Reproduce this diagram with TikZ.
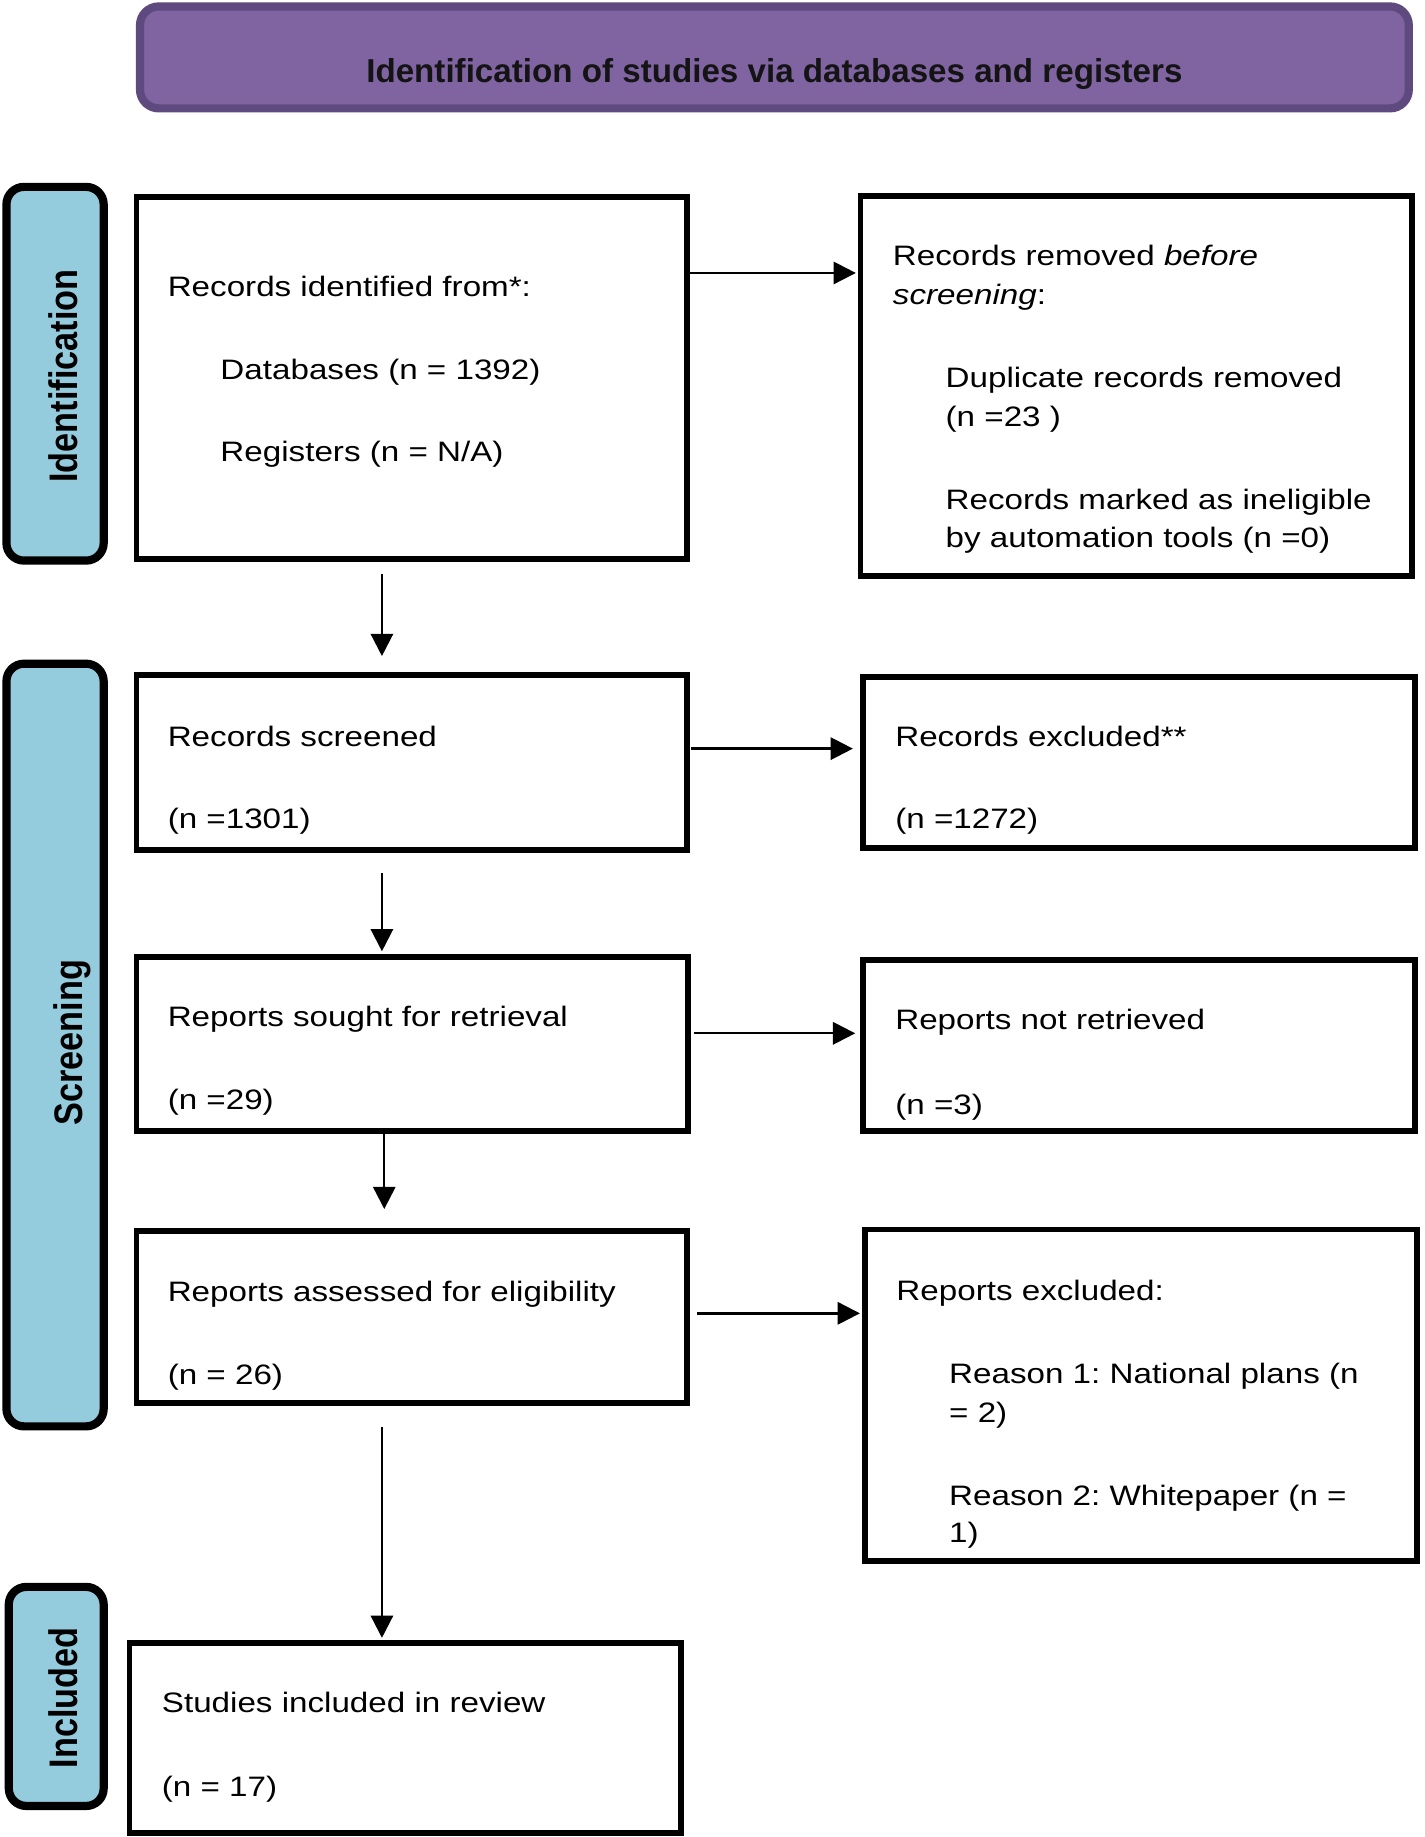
\documentclass[tikz,border=0pt]{standalone}
\usepackage{fontspec}
\setmainfont{Liberation Sans}
\newfontfamily\bodyfont[FakeStretch=1.18]{Liberation Sans}
\newfontfamily\sidefont[FakeStretch=0.86]{Liberation Sans}
\usetikzlibrary{arrows.meta}
\definecolor{hdrfill}{RGB}{128,100,162}
\definecolor{hdrdraw}{RGB}{94,74,126}
\definecolor{sidefill}{RGB}{148,204,222}
\frenchspacing
\begin{document}
\begin{tikzpicture}[x=1pt,y=-1pt,
  hdr/.style={draw=hdrdraw, fill=hdrfill, line width=7pt, rounded corners=16pt, inner sep=0pt, outer sep=0pt},
  hdrtxt/.style={anchor=base, inner sep=0pt, font=\bfseries\fontsize{28.3}{34}\selectfont, text=black!92},
  box/.style={draw=black, line width=5pt, inner sep=0pt, outer sep=0pt},
  sidebox/.style={draw=black, fill=sidefill, line width=7pt, rounded corners=15pt, inner sep=0pt, outer sep=0pt},
  sidelbl/.style={rotate=90, anchor=base, inner sep=0pt, font=\sidefont\bfseries\fontsize{34}{40}\selectfont},
  txt/.style={anchor=base west, inner sep=0pt, font=\bodyfont\fontsize{24}{33}\selectfont},
  arr/.style={line width=2pt, -{Triangle[length=19pt,width=19pt]}}
]
\useasboundingbox (0,0) rectangle (1216,1568);

% header
\node[hdr, minimum width=1083pt, minimum height=87pt] (H) at (661,49) {};
\node[hdrtxt] (Ht) at (661,70) {Identification of studies via databases and registers};

% side labels
\node[sidebox, minimum width=83pt, minimum height=319pt] (S1) at (47,319) {};
\node[sidelbl] (S1t) at (66.5,321) {Identification};
\node[sidebox, minimum width=83pt, minimum height=651pt] (S2) at (47,892) {};
\node[sidelbl] (S2t) at (70,890) {Screening};
\node[sidebox, minimum width=81pt, minimum height=187pt] (S3) at (48,1448) {};
\node[sidelbl] (S3t) at (66,1449) {Included};

% main boxes
\node[box, minimum width=470pt, minimum height=309pt] (B1) at (351.5,323) {};
\node[box, minimum width=471pt, minimum height=324pt] (R1) at (970,329.5) {};
\node[box, minimum width=470pt, minimum height=149pt] (B2) at (351.5,651) {};
\node[box, minimum width=471pt, minimum height=146pt] (R2) at (972,650.5) {};
\node[box, minimum width=471pt, minimum height=149pt] (B3) at (352,891) {};
\node[box, minimum width=471pt, minimum height=146pt] (R3) at (972,892.5) {};
\node[box, minimum width=470pt, minimum height=147pt] (B4) at (351.5,1124) {};
\node[box, minimum width=471pt, minimum height=283pt] (R4) at (974,1191) {};
\node[box, minimum width=471pt, minimum height=162pt] (B5) at (346,1483.5) {};

% texts
\node[txt] (t11) at (143,253) {Records identified from*:};
\node[txt] (t12) at (188,324) {Databases (n = 1392)};
\node[txt] (t13) at (188,394) {Registers (n = N/A)};

\node[txt] (r11) at (762,227) {Records removed \textit{before}};
\node[txt] (r12) at (762,260) {\textit{screening}:};
\node[txt] (r13) at (807,331) {Duplicate records removed};
\node[txt] (r14) at (807,364) {(n =23 )};
\node[txt] (r15) at (807,435) {Records marked as ineligible};
\node[txt] (r16) at (807,467) {by automation tools (n =0)};

\node[txt] (t21) at (143,637) {Records screened};
\node[txt] (t22) at (143,707) {(n =1301)};
\node[txt] (r21) at (764,637) {Records excluded**};
\node[txt] (r22) at (764,707) {(n =1272)};

\node[txt] (t31) at (143,876) {Reports sought for retrieval};
\node[txt] (t32) at (143,947) {(n =29)};
\node[txt] (r31) at (764,879) {Reports not retrieved};
\node[txt] (r32) at (764,951) {(n =3)};

\node[txt] (t41) at (143,1111) {Reports assessed for eligibility};
\node[txt] (t42) at (143,1182) {(n = 26)};
\node[txt] (r41) at (765,1110) {Reports excluded:};
\node[txt] (r42) at (810,1181) {Reason 1: National plans (n};
\node[txt] (r43) at (810,1214) {= 2)};
\node[txt] (r44) at (810,1285) {Reason 2: Whitepaper (n =};
\node[txt] (r45) at (810,1317) {1)};

\node[txt] (t51) at (138,1462) {Studies included in review};
\node[txt] (t52) at (138,1533) {(n = 17)};

% horizontal arrows
\draw[arr, shorten <=2.5pt, shorten >=4pt] ([yshift=90pt]B1.east) -- ([yshift=90pt]B1.east -| R1.west);
\draw[arr, shorten <=3.5pt, shorten >=8.5pt] ([yshift=12pt]B2.east) -- ([yshift=12pt]B2.east -| R2.west);
\draw[arr, shorten <=4.5pt, shorten >=6.5pt] ([yshift=9pt]B3.east) -- ([yshift=9pt]B3.east -| R3.west);
\draw[arr, shorten <=8.5pt, shorten >=4.5pt] ([yshift=3pt]B4.east) -- ([yshift=3pt]B4.east -| R4.west);

% vertical arrows
\draw[arr, shorten <=12.5pt, shorten >=16.5pt] ([xshift=-25.5pt]B1.south) -- ([xshift=-25.5pt]B1.south |- B2.north);
\draw[arr, shorten <=19.5pt, shorten >=4.5pt] ([xshift=-25.5pt]B2.south) -- ([xshift=-25.5pt]B2.south |- B3.north);
\draw[arr, shorten <=0.5pt, shorten >=18.5pt] ([xshift=-24pt]B3.south) -- ([xshift=-24pt]B3.south |- B4.north);
\draw[arr, shorten <=20.5pt, shorten >=4.5pt] ([xshift=-25.5pt]B4.south) -- ([xshift=-25.5pt]B4.south |- B5.north);
\end{tikzpicture}
\end{document}
